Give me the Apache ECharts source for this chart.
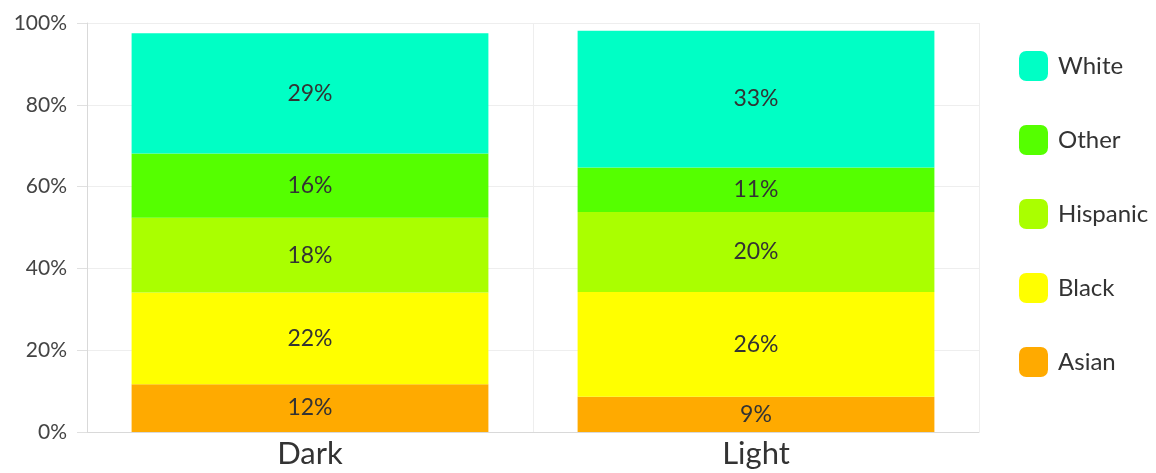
<!DOCTYPE html>
<html>
<head>
<meta charset="utf-8">
<script src="https://cdn.jsdelivr.net/npm/echarts@6/dist/echarts.min.js"></script>
<style>
html,body{margin:0;padding:0;background:#fff;}
#chart{width:1156px;height:473px;}
</style>
</head>
<body>
<div id="chart"></div>
<script>
var categories = ['Dark', 'Light'];
var asian    = [11.7, 8.6];
var black    = [22.4, 25.6];
var hispanic = [18.3, 19.6];
var other    = [15.7, 10.9];
var white    = [29.4, 33.4];
var seriesNames = ['Asian', 'Black', 'Hispanic', 'Other', 'White'];
var legendOrder = ['White', 'Other', 'Hispanic', 'Black', 'Asian'];
var yTicks = [0, 20, 40, 60, 80, 100];

var colors = {Asian:'#ffaa00', Black:'#ffff00', Hispanic:'#aaff00', Other:'#55ff00', White:'#00ffc5'};
var values = {Asian:asian, Black:black, Hispanic:hispanic, Other:other, White:white};
var FONT = 'Lato';

var chart = echarts.init(document.getElementById('chart'));
chart.setOption({
  animation: false,
  grid: {left: 87, right: 177, top: 23, bottom: 41},
  legend: {
    orient: 'vertical',
    left: 1019,
    top: 51,
    padding: 0,
    itemWidth: 29,
    itemHeight: 30,
    itemGap: 44,
    icon: 'roundRect',
    data: legendOrder,
    textStyle: {fontFamily: FONT, fontSize: 24, color: '#333', padding: [0,0,0,5]}
  },
  xAxis: {
    type: 'category',
    data: categories,
    axisLine: {lineStyle: {color: '#d9d9d9'}},
    axisTick: {alignWithLabel: true, length: 9, lineStyle: {color: '#e0e0e0'}},
    axisLabel: {fontFamily: FONT, fontSize: 31, color: '#333', margin: 6},
    splitLine: {show: true, lineStyle: {color: '#eeeeee'}}
  },
  yAxis: {
    type: 'value',
    min: yTicks[0],
    max: yTicks[yTicks.length-1],
    interval: 20,
    axisLine: {show: true, lineStyle: {color: '#d9d9d9'}},
    axisTick: {show: true, length: 10, lineStyle: {color: '#e0e0e0'}},
    axisLabel: {fontFamily: FONT, fontSize: 21, color: '#444', margin: 20, formatter: '{value}%'},
    splitLine: {lineStyle: {color: '#eeeeee'}}
  },
  series: seriesNames.map(function(n){
    return {
      name: n,
      type: 'bar',
      stack: 'total',
      barWidth: '80%',
      data: values[n],
      itemStyle: {color: colors[n]},
      label: {
        show: true,
        position: 'inside',
        fontFamily: FONT,
        fontSize: 23,
        color: '#333',
        formatter: function(p){ return Math.round(p.value) + '%'; }
      }
    };
  })
});
</script>
</body>
</html>
